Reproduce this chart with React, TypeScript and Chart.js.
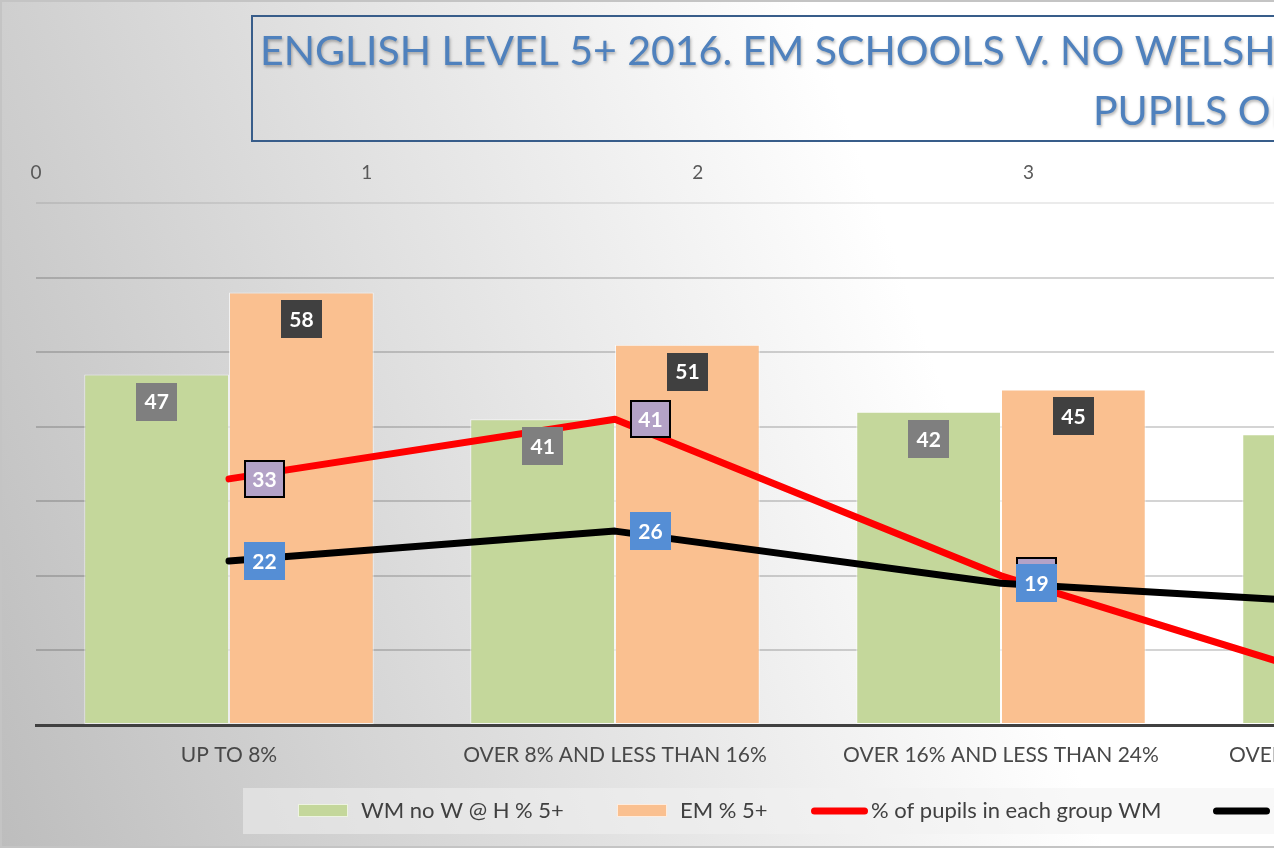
import React, { useEffect, useRef } from "react";
import { Chart, registerables } from "chart.js";

Chart.register(...registerables);

// ---------- data ----------
const categories = [
  "UP TO 8%",
  "OVER 8% AND LESS THAN 16%",
  "OVER 16% AND LESS THAN 24%",
  "OVER 24% AND LESS THAN 32%",
  "OVER 32% AND LESS THAN 40%",
  "OVER 40%",
];
const seriesNames = [
  "WM no W @ H % 5+",
  "EM % 5+",
  "% of pupils in each group WM",
  "% of pupils in each group EM",
];
const wmNoWelshAtHome = [47, 41, 42, 39, 36, 33];
const emSchools = [58, 51, 45, 42, 40, 37];
const pupilsGroupWM = [33, 41, 20, 4, 1, 1];
const pupilsGroupEM = [22, 26, 19, 16, 10, 7];
const topAxisTicks = [0, 1, 2, 3, 4, 5, 6, 7];
const valueAxisTicks = [0, 10, 20, 30, 40, 50, 60, 70];
const titleLines = [
  "ENGLISH LEVEL 5+ 2016. EM SCHOOLS V. NO WELSH AT HOME SCHOOLS BY % OF",
  "PUPILS ON FSM",
];

// ---------- layout / style ----------
const W = 2390;
const H = 848;
const FONT = "Lato, 'Open Sans', sans-serif";

const backgroundPlugin = {
  id: "bgPlugin",
  beforeDraw(chart: any) {
    const ctx = chart.ctx;
    ctx.save();
    const g = ctx.createLinearGradient(-283, 100, 717, -253);
    g.addColorStop(0, "#bcbcbc");
    g.addColorStop(1, "#ffffff");
    ctx.fillStyle = g;
    ctx.fillRect(0, 0, chart.width, chart.height);
    ctx.strokeStyle = "#c4c4c4";
    ctx.lineWidth = 2;
    ctx.strokeRect(1, 1, chart.width - 2, chart.height - 2);

    // title box
    ctx.strokeStyle = "#385d8a";
    ctx.lineWidth = 2;
    ctx.strokeRect(252, 16, chart.width - 504, 125);
    ctx.font = `41px ${FONT}`;
    ctx.fillStyle = "#4f81bd";
    ctx.textBaseline = "alphabetic";
    ctx.textAlign = "left";
    ctx.shadowColor = "rgba(0,0,0,0.3)";
    ctx.shadowBlur = 3;
    ctx.shadowOffsetX = 1;
    ctx.shadowOffsetY = 2;
    ctx.fillText(titleLines[0], 260, 65);
    ctx.fillText(titleLines[1], 1093, 125);
    ctx.restore();
  },
};

function drawLabelBox(
  ctx: any,
  cx: number,
  cy: number,
  text: string,
  fill: string,
  border: string | null
) {
  ctx.font = `bold 21px ${FONT}`;
  const tw = ctx.measureText(text).width;
  const w = Math.round(tw + 17);
  const h = 38;
  const x = Math.round(cx - w / 2);
  const y = Math.round(cy - h / 2);
  ctx.fillStyle = fill;
  ctx.fillRect(x, y, w, h);
  if (border) {
    ctx.strokeStyle = border;
    ctx.lineWidth = 2;
    ctx.strokeRect(x + 1, y + 1, w - 2, h - 2);
  }
  ctx.fillStyle = "#ffffff";
  ctx.textAlign = "center";
  ctx.textBaseline = "middle";
  ctx.fillText(text, cx, cy + 1);
}

const labelStyles = [
  { fill: "#7f7f7f", border: null },
  { fill: "#404040", border: null },
  { fill: "#b3a2c7", border: "#000000" },
  { fill: "#558ed5", border: null },
];

const dataLabelPlugin = {
  id: "dataLabels",
  afterDatasetsDraw(chart: any) {
    const ctx = chart.ctx;
    ctx.save();
    chart.data.datasets.forEach((ds: any, i: number) => {
      const meta = chart.getDatasetMeta(i);
      const st = labelStyles[i];
      meta.data.forEach((el: any, j: number) => {
        const v = ds.data[j];
        if (meta.type === "bar") {
          drawLabelBox(ctx, el.x, el.y + 27, String(v), st.fill, st.border);
        } else {
          const w0 = 41;
          drawLabelBox(ctx, el.x + 15 + w0 / 2, el.y, String(v), st.fill, st.border);
        }
      });
    });
    ctx.restore();
  },
};

const legendKeyX = [298, 617, 811, 1213];

const customLegendPlugin = {
  id: "customLegend",
  afterDraw(chart: any) {
    const ctx = chart.ctx;
    ctx.save();
    ctx.fillStyle = "rgba(241,241,241,0.52)";
    ctx.fillRect(243, 788, chart.width - 486, 46);
    ctx.font = `22px ${FONT}`;
    ctx.textBaseline = "middle";
    ctx.textAlign = "left";
    const cy = 811;
    chart.data.datasets.forEach((ds: any, i: number) => {
      const kx = legendKeyX[i];
      if (ds.type === "line") {
        ctx.strokeStyle = ds.borderColor;
        ctx.lineWidth = 7;
        ctx.lineCap = "round";
        ctx.beginPath();
        ctx.moveTo(kx + 3.5, cy);
        ctx.lineTo(kx + 53.5, cy);
        ctx.stroke();
        ctx.fillStyle = "#404040";
        ctx.fillText(ds.label, kx + 60, cy);
      } else {
        ctx.fillStyle = ds.backgroundColor;
        ctx.fillRect(kx, 804, 50, 13);
        ctx.strokeStyle = "rgba(255,255,255,0.7)";
        ctx.lineWidth = 1;
        ctx.strokeRect(kx + 0.5, 804.5, 49, 12);
        ctx.fillStyle = "#404040";
        ctx.fillText(ds.label, kx + 63, cy);
      }
    });
    ctx.restore();
  },
};

export default function App() {
  const ref = useRef<HTMLCanvasElement | null>(null);

  useEffect(() => {
    document.body.style.margin = "0";
    document.body.style.overflow = "hidden";
    document.documentElement.style.overflow = "hidden";
    if (!ref.current) return;
    const chart = new Chart(ref.current, {
      type: "bar",
      data: {
        labels: categories,
        datasets: [
          {
            type: "bar",
            label: seriesNames[0],
            data: wmNoWelshAtHome,
            backgroundColor: "#c4d79b",
            borderColor: "rgba(255,255,255,0.65)",
            borderWidth: 1,
            borderSkipped: false,
            order: 2,
          } as any,
          {
            type: "bar",
            label: seriesNames[1],
            data: emSchools,
            backgroundColor: "#fac090",
            borderColor: "rgba(255,255,255,0.65)",
            borderWidth: 1,
            borderSkipped: false,
            order: 2,
          },
          {
            type: "line",
            label: seriesNames[2],
            data: pupilsGroupWM,
            borderColor: "#ff0000",
            backgroundColor: "#ff0000",
            borderWidth: 7,
            pointRadius: 0,
            tension: 0,
            borderCapStyle: "round",
            borderJoinStyle: "round",
            order: 1,
          },
          {
            type: "line",
            label: seriesNames[3],
            data: pupilsGroupEM,
            borderColor: "#000000",
            backgroundColor: "#000000",
            borderWidth: 7,
            pointRadius: 0,
            tension: 0,
            borderCapStyle: "round",
            borderJoinStyle: "round",
            order: 0,
          },
        ],
      },
      options: {
        responsive: false,
        animation: false,
        devicePixelRatio: 1,
        layout: { padding: { left: 36, right: 38, top: 143, bottom: 0 } },
        plugins: {
          legend: { display: false },
          tooltip: { enabled: false },
          title: { display: false },
        },
        datasets: {
          bar: { categoryPercentage: 0.75, barPercentage: 1 },
        },
        scales: {
          x: {
            type: "category",
            position: "bottom",
            z: 1,
            grid: { display: false, drawTicks: false },
            border: { display: true, color: "#404040", width: 3 },
            ticks: {
              autoSkip: false,
              maxRotation: 0,
              padding: 18,
              color: "#484848",
              font: { family: FONT, size: 21 },
            },
            afterFit: (s: any) => {
              s.height = 123;
            },
          },
          x2: {
            type: "linear",
            position: "top",
            offset: false,
            min: 0,
            max: 7,
            grid: { display: false, drawTicks: false, offset: false },
            border: { display: false },
            ticks: {
              padding: 19,
              color: "#595959",
              font: { family: FONT, size: 19 },
            },
            afterBuildTicks: (s: any) => {
              s.ticks = topAxisTicks.map((v) => ({ value: v }));
            },
            afterFit: (s: any) => {
              s.height = 60;
            },
          },
          y: {
            type: "linear",
            min: 0,
            max: 70,
            ticks: { display: false },
            afterBuildTicks: (s: any) => {
              s.ticks = valueAxisTicks.map((v) => ({ value: v }));
            },
            border: { display: false },
            grid: {
              drawTicks: false,
              lineWidth: 2,
              color: (c: any) =>
                c.tick && c.tick.value === 70
                  ? "rgba(0,0,0,0.08)"
                  : "rgba(0,0,0,0.17)",
            },
            afterFit: (s: any) => {
              s.width = 0;
            },
          },
        },
      } as any,
      plugins: [backgroundPlugin, dataLabelPlugin, customLegendPlugin],
    });
    return () => chart.destroy();
  }, []);

  return (
    <div
      style={{
        position: "fixed",
        left: 0,
        top: 0,
        width: "100vw",
        height: "100vh",
        overflow: "hidden",
      }}
    >
      <canvas ref={ref} width={W} height={H} style={{ display: "block" }} />
    </div>
  );
}
